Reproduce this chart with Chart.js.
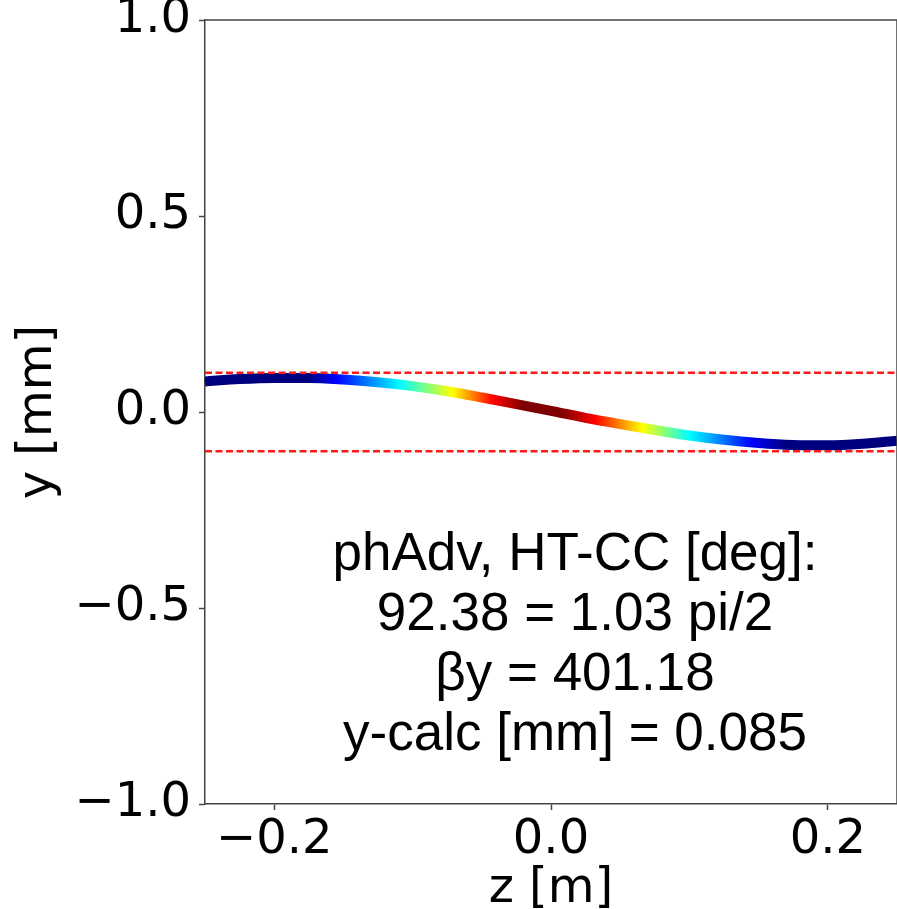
<!DOCTYPE html>
<html>
<head>
<meta charset="utf-8">
<script src="https://cdn.jsdelivr.net/npm/chart.js@4.4.1/dist/chart.umd.min.js"></script>
<style>
  body { margin: 0; background: #fff; }
  #wrap { width: 897px; height: 909px; }
</style>
</head>
<body>
<div id="wrap"><canvas id="orbit" width="897" height="909"></canvas></div>
<script>
// orbit
const zValues = [-0.25, -0.225, -0.2, -0.175, -0.15, -0.125, -0.1, -0.075, -0.05, -0.025, 0.0,
                 0.025, 0.05, 0.075, 0.1, 0.125, 0.15, 0.175, 0.2, 0.225, 0.25];
const yValues = [0.078, 0.084, 0.087, 0.087, 0.083, 0.076, 0.066, 0.053, 0.037, 0.020, 0.003,
                 -0.015, -0.031, -0.046, -0.060, -0.071, -0.079, -0.084, -0.085, -0.081, -0.073];

// aperture limits
const limitZ = [-0.25, 0.25];
const limitY = [0.1, -0.1];

const xTicks = [-0.2, 0.0, 0.2];
const yTicks = [-1.0, -0.5, 0.0, 0.5, 1.0];

const annotationLines = [
  'phAdv, HT-CC [deg]:',
  '92.38 = 1.03 pi/2',
  '\u03B2y = 401.18',
  'y-calc [mm] = 0.085'
];

const tickFont = { family: 'DejaVu Sans', size: 48 };

function fmt(v) {
  return v.toFixed(1).replace('-', '\u2212');
}

// jet colours along z, placed to match the picture
function jetGradient(context) {
  const chart = context.chart;
  if (!chart.chartArea) return '#00007f';
  const xs = chart.scales.x;
  const x0 = xs.getPixelForValue(-0.25);
  const x1 = xs.getPixelForValue(0.25);
  const g = chart.ctx.createLinearGradient(x0, 0, x1, 0);
  const stops = [
    [-0.25, '#00007f'], [-0.176, '#00007f'], [-0.155, '#0000ff'], [-0.109, '#00ffff'],
    [-0.071, '#ffff00'], [-0.042, '#ff0000'], [-0.020, '#7f0000'], [0.008, '#7f0000'],
    [0.032, '#ff0000'], [0.066, '#ffff00'], [0.100, '#00ffff'], [0.145, '#0000ff'],
    [0.170, '#00007f'], [0.25, '#00007f']
  ];
  stops.forEach(s => g.addColorStop((s[0] + 0.25) / 0.5, s[1]));
  return g;
}

const framePlugin = {
  id: 'frame',
  afterDatasetsDraw(chart) {
    const { ctx, chartArea } = chart;
    ctx.save();
    ctx.strokeStyle = '#444';
    ctx.lineWidth = 1.5;
    ctx.beginPath();
    ctx.moveTo(chartArea.left, chartArea.top);
    ctx.lineTo(chartArea.right, chartArea.top);
    ctx.lineTo(chartArea.right, chartArea.bottom);
    ctx.stroke();

    ctx.fillStyle = '#000';
    ctx.font = '53px "Liberation Sans", Arial, sans-serif';
    ctx.textAlign = 'center';
    ctx.textBaseline = 'alphabetic';
    annotationLines.forEach((t, i) => {
      ctx.fillText(t, 575, 570 + i * 60);
    });
    ctx.restore();
  }
};

const ctx = document.getElementById('orbit').getContext('2d');
const chart = new Chart(ctx, {
  type: 'line',
  data: {
    datasets: [
      {
        data: limitZ.map(z => ({ x: z, y: limitY[0] })),
        borderColor: '#ff1a1a',
        borderWidth: 2.5,
        borderDash: [7, 3.5],
        pointRadius: 0
      },
      {
        data: limitZ.map(z => ({ x: z, y: limitY[1] })),
        borderColor: '#ff1a1a',
        borderWidth: 2.5,
        borderDash: [7, 3.5],
        pointRadius: 0
      },
      {
        data: zValues.map((z, i) => ({ x: z, y: yValues[i] })),
        borderColor: jetGradient,
        borderWidth: 10,
        borderCapStyle: 'butt',
        cubicInterpolationMode: 'monotone',
        pointRadius: 0
      }
    ]
  },
  options: {
    responsive: false,
    animation: false,
    layout: { padding: { top: 20, right: 0, left: 0, bottom: 0 } },
    plugins: {
      legend: { display: false },
      tooltip: { enabled: false }
    },
    scales: {
      x: {
        type: 'linear',
        min: -0.25,
        max: 0.25,
        afterBuildTicks: (s) => { s.ticks = xTicks.map(v => ({ value: v })); },
        afterFit: (s) => {
          s.height = 105;
          s.paddingLeft = 0; s.paddingRight = 0;
        },
        ticks: {
          font: tickFont,
          color: '#000',
          padding: 2,
          maxRotation: 0,
          autoSkip: false,
          callback: (v) => fmt(v)
        },
        grid: { drawOnChartArea: false, drawTicks: true, tickLength: 6, tickWidth: 1.5, tickColor: '#444' },
        border: { display: true, color: '#444', width: 1.5 },
        title: {
          display: true,
          text: 'z [m]',
          color: '#000',
          font: { family: 'DejaVu Sans', size: 48, lineHeight: 0.8 },
          padding: 0
        }
      },
      y: {
        type: 'linear',
        min: -1,
        max: 1,
        afterBuildTicks: (s) => { s.ticks = yTicks.map(v => ({ value: v })); },
        afterFit: (s) => {
          s.width = 205;
          s.paddingTop = 0; s.paddingBottom = 0;
        },
        ticks: {
          font: tickFont,
          color: '#000',
          padding: 8,
          autoSkip: false,
          callback: (v) => fmt(v)
        },
        grid: { drawOnChartArea: false, drawTicks: true, tickLength: 6, tickWidth: 1.5, tickColor: '#444' },
        border: { display: true, color: '#444', width: 1.5 },
        title: {
          display: true,
          text: 'y [mm]',
          color: '#000',
          font: { family: 'DejaVu Sans', size: 48, lineHeight: 1.2 },
          padding: { top: 10, bottom: 0 }
        }
      }
    }
  },
  plugins: [framePlugin]
});
</script>
</body>
</html>
